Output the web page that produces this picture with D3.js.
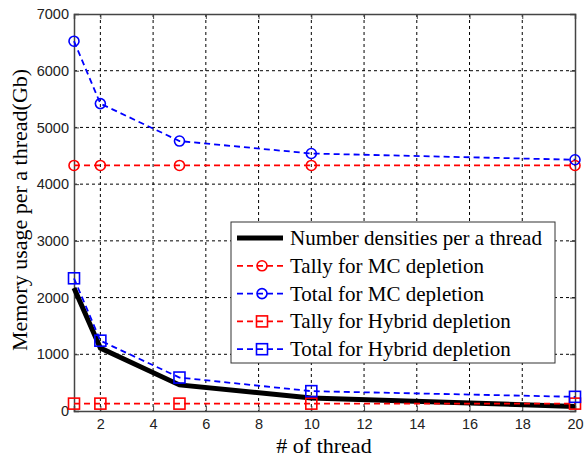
<!DOCTYPE html>
<html>
<head>
<meta charset="utf-8">
<script src="https://cdn.jsdelivr.net/npm/d3@7"></script>
<style>
  body { margin: 0; background: #fff; }
  svg { display: block; }
  .tick text { font-family: "Liberation Sans", Arial, sans-serif; font-size: 14.5px; fill: #222; }
</style>
</head>
<body>
<svg id="chart" width="584" height="460"></svg>
<script>
const threads = [1, 2, 5, 10, 20];
const numberDensities = [2170, 1110, 460, 230, 80];
const tallyMC = [4330, 4330, 4330, 4330, 4330];
const totalMC = [6520, 5420, 4760, 4540, 4430];
const tallyHybrid = [130, 130, 130, 130, 130];
const totalHybrid = [2340, 1240, 590, 350, 250];
const xTicks = [2, 4, 6, 8, 10, 12, 14, 16, 18, 20];
const yTicks = [0, 1000, 2000, 3000, 4000, 5000, 6000, 7000];

const series = [
  { name: 'Number densities per a thread', values: numberDensities, color: '#000', width: 5, dash: null, marker: null },
  { name: 'Tally for MC depletion', values: tallyMC, color: '#f00', width: 1.8, dash: '6,4', marker: 'circle' },
  { name: 'Total for MC depletion', values: totalMC, color: '#00f', width: 1.8, dash: '6,4', marker: 'circle' },
  { name: 'Tally for Hybrid depletion', values: tallyHybrid, color: '#f00', width: 1.8, dash: '6,4', marker: 'square' },
  { name: 'Total for Hybrid depletion', values: totalHybrid, color: '#00f', width: 1.8, dash: '6,4', marker: 'square' }
];

const svg = d3.select('#chart');
const margin = { top: 14, right: 9, bottom: 49, left: 74 };
const width = 584, height = 460;
const serif = '"Liberation Serif", "Times New Roman", serif';

const x = d3.scaleLinear().domain([1, 20]).range([margin.left, width - margin.right]);
const y = d3.scaleLinear().domain([0, 7000]).range([height - margin.bottom, margin.top]);

// dotted grid
const grid = svg.append('g');
grid.selectAll('.gx').data(xTicks.slice(0, -1)).enter().append('line')
  .attr('x1', d => x(d)).attr('x2', d => x(d))
  .attr('y1', margin.top).attr('y2', height - margin.bottom)
  .attr('stroke', '#000').attr('stroke-width', 1).attr('stroke-dasharray', '3,3');
grid.selectAll('.gy').data(yTicks.slice(1, -1)).enter().append('line')
  .attr('y1', d => y(d)).attr('y2', d => y(d))
  .attr('x1', margin.left).attr('x2', width - margin.right)
  .attr('stroke', '#000').attr('stroke-width', 1).attr('stroke-dasharray', '3,3');

// axes with inward ticks on all four sides
svg.append('g')
  .attr('transform', `translate(0,${height - margin.bottom})`)
  .call(d3.axisBottom(x).tickValues(xTicks).tickSize(-5).tickPadding(8).tickFormat(d3.format('d')));
svg.append('g')
  .attr('transform', `translate(${margin.left},0)`)
  .call(d3.axisLeft(y).tickValues(yTicks).tickSize(-5).tickPadding(5).tickFormat(d3.format('d')));
svg.append('g')
  .attr('transform', `translate(0,${margin.top})`)
  .call(d3.axisTop(x).tickValues(xTicks).tickSize(-5).tickFormat(''));
svg.append('g')
  .attr('transform', `translate(${width - margin.right},0)`)
  .call(d3.axisRight(y).tickValues(yTicks).tickSize(-5).tickFormat(''));
svg.selectAll('.domain').attr('stroke', '#444').attr('stroke-width', 1.5);
svg.selectAll('.tick line').attr('stroke', '#444');

// series
const line = d3.line().x((d, i) => x(threads[i])).y(d => y(d));
function drawMarker(g, type, cx, cy, color) {
  if (type === 'circle') {
    g.append('circle').attr('cx', cx).attr('cy', cy).attr('r', 5)
      .attr('fill', 'none').attr('stroke', color).attr('stroke-width', 1.6);
  } else if (type === 'square') {
    g.append('rect').attr('x', cx - 5.5).attr('y', cy - 5.5).attr('width', 11).attr('height', 11)
      .attr('fill', 'none').attr('stroke', color).attr('stroke-width', 1.6);
  }
}

series.forEach(s => {
  const g = svg.append('g');
  g.append('path').datum(s.values)
    .attr('d', line)
    .attr('fill', 'none')
    .attr('stroke', s.color)
    .attr('stroke-width', s.width)
    .attr('stroke-dasharray', s.dash);
  if (s.marker) {
    s.values.forEach((v, i) => drawMarker(g, s.marker, x(threads[i]), y(v), s.color));
  }
});

// legend
const legend = svg.append('g').attr('transform', 'translate(231,222)');
legend.append('rect').attr('width', 324).attr('height', 141)
  .attr('fill', '#fff').attr('stroke', '#333').attr('stroke-width', 1);
series.forEach((s, i) => {
  const cy = 16 + i * 27.8;
  legend.append('line').attr('x1', 6).attr('x2', 52).attr('y1', cy).attr('y2', cy)
    .attr('stroke', s.color).attr('stroke-width', s.width).attr('stroke-dasharray', s.dash);
  drawMarker(legend, s.marker, 31, cy, s.color);
  legend.append('text').attr('x', 59).attr('y', cy + 7)
    .attr('font-family', serif)
    .attr('font-size', 21).attr('fill', '#000')
    .text(s.name);
});

// axis titles
svg.append('text')
  .attr('x', 324).attr('y', 453)
  .attr('text-anchor', 'middle')
  .attr('font-family', serif)
  .attr('font-size', 22).attr('fill', '#000')
  .text('# of thread');
svg.append('text')
  .attr('transform', 'translate(27,210) rotate(-90)')
  .attr('text-anchor', 'middle')
  .attr('font-family', serif)
  .attr('font-size', 22).attr('fill', '#000')
  .text('Memory usage per a thread(Gb)');
</script>
</body>
</html>
